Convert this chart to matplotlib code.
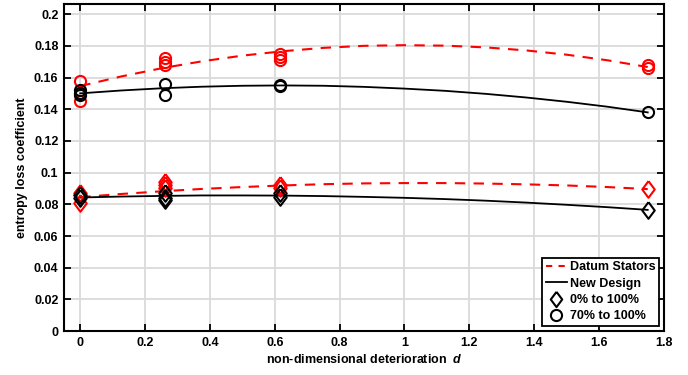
import matplotlib.pyplot as plt
import matplotlib.ticker as tck
from matplotlib.lines import Line2D

plt.rcParams['font.family'] = 'Liberation Sans'
plt.rcParams['font.weight'] = 'bold'
plt.rcParams['mathtext.fontset'] = 'custom'
plt.rcParams['mathtext.it'] = 'Liberation Sans:italic:bold'

# measured points: deterioration d vs entropy loss coefficient
datum_circ_x = [0, 0, 0, 0.263, 0.263, 0.263, 0.615, 0.615, 0.615, 1.75, 1.75]
datum_circ_y = [0.158, 0.145, 0.150, 0.172, 0.170, 0.168, 0.175, 0.173, 0.171, 0.168, 0.166]
new_circ_x = [0, 0, 0, 0.263, 0.263, 0.615, 0.615, 1.75]
new_circ_y = [0.152, 0.149, 0.150, 0.156, 0.149, 0.155, 0.1545, 0.138]

datum_diam_x = [0, 0, 0.263, 0.263, 0.263, 0.615, 0.615, 1.75]
datum_diam_y = [0.087, 0.081, 0.094, 0.092, 0.090, 0.092, 0.090, 0.0896]
new_diam_x = [0, 0, 0.263, 0.263, 0.263, 0.615, 0.615, 1.75]
new_diam_y = [0.0858, 0.084, 0.087, 0.084, 0.0826, 0.087, 0.0845, 0.0765]

# fitted trend lines
fit_x = [0, 0.125, 0.25, 0.375, 0.5, 0.625, 0.75, 0.875, 1.0,
         1.125, 1.25, 1.375, 1.5, 1.625, 1.75]
datum_circ_fit = [0.1546, 0.1606, 0.1658, 0.1702, 0.1738, 0.1766, 0.1787, 0.1800, 0.1804,
                  0.1801, 0.1790, 0.1771, 0.1744, 0.1709, 0.1666]
new_circ_fit = [0.1500, 0.1518, 0.1532, 0.1542, 0.1548, 0.1550, 0.1548, 0.1541, 0.1530,
                0.1516, 0.1497, 0.1474, 0.1447, 0.1416, 0.1380]
datum_diam_fit = [0.0845, 0.0865, 0.0882, 0.0897, 0.0909, 0.0919, 0.0927, 0.0932, 0.0934,
                  0.0934, 0.0931, 0.0926, 0.0919, 0.0909, 0.0896]
new_diam_fit = [0.0843, 0.0849, 0.0853, 0.0856, 0.0856, 0.0855, 0.0852, 0.0847, 0.0841,
                0.0833, 0.0823, 0.0811, 0.0797, 0.0782, 0.0765]

# MATLAB-like diamond, a bit taller than wide
diamond = [(0, 1), (0.75, 0), (0, -1), (-0.75, 0), (0, 1)]

fig = plt.figure(figsize=(6.88, 3.75), dpi=100)
ax = fig.add_axes([0.093, 0.117, 0.872, 0.872])

ms = 8
mew = 1.5
dash = (0, (5, 4))
ax.plot(fit_x, datum_circ_fit, color='red', linestyle=dash, linewidth=1.5)
ax.plot(fit_x, new_circ_fit, color='black', linewidth=1.3)
ax.plot(fit_x, datum_diam_fit, color='red', linestyle=dash, linewidth=1.5)
ax.plot(fit_x, new_diam_fit, color='black', linewidth=1.3)

ax.plot(datum_circ_x, datum_circ_y, 'o', mfc='none', mec='red', ms=ms, mew=mew)
ax.plot(new_circ_x, new_circ_y, 'o', mfc='none', mec='black', ms=ms, mew=mew)
ax.plot(datum_diam_x, datum_diam_y, marker=diamond, ls='none', mfc='none', mec='red',
        ms=12, mew=mew)
ax.plot(new_diam_x, new_diam_y, marker=diamond, ls='none', mfc='none', mec='black',
        ms=12, mew=mew)

ax.set_xlim(-0.05, 1.8)
ax.set_ylim(0, 0.2063)
ax.xaxis.set_major_locator(tck.MultipleLocator(0.2))
ax.yaxis.set_major_locator(tck.MultipleLocator(0.02))
ax.xaxis.set_major_formatter(tck.FormatStrFormatter('%g'))
ax.yaxis.set_major_formatter(tck.FormatStrFormatter('%g'))
ax.tick_params(direction='in', top=True, right=True, length=5, width=1.3,
               labelsize=9, pad=4)
for sp in ax.spines.values():
    sp.set_linewidth(1.5)
ax.grid(color='#dadada', linewidth=1.3)
ax.set_axisbelow(True)

ax.set_xlabel('non-dimensional deterioration  $d$', fontsize=9, fontweight='bold',
              labelpad=3)
ax.set_ylabel('entropy loss coefficient', fontsize=9, fontweight='bold')

handles = [
    Line2D([], [], color='red', linestyle=(0, (3, 3)), linewidth=1.5),
    Line2D([], [], color='black', linewidth=1.3),
    Line2D([], [], marker=diamond, linestyle='none', mfc='none', mec='black', ms=11, mew=1.5),
    Line2D([], [], marker='o', linestyle='none', mfc='none', mec='black', ms=8, mew=1.5),
]
labels = ['Datum Stators', 'New Design', '0% to 100%', '70% to 100%']
leg = ax.legend(handles, labels, loc='lower right', fancybox=False,
                framealpha=1, edgecolor='black', handlelength=1.7,
                handletextpad=0.2, borderpad=0.3, labelspacing=0.35,
                borderaxespad=0.4, prop={'weight': 'bold', 'size': 9})
leg.get_frame().set_linewidth(1.3)

fig.savefig('out.png', dpi=100)
